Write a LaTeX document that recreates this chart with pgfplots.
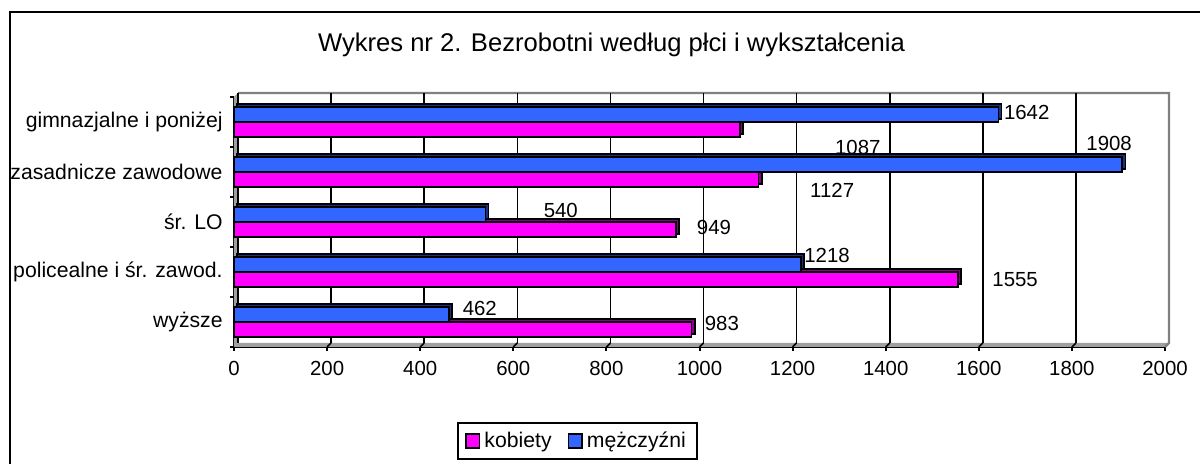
\documentclass[border=0pt]{standalone}
\usepackage{fontspec}
\setmainfont{Liberation Sans}
\usepackage{pgfplots}
\pgfplotsset{compat=1.18}
\definecolor{mypink}{HTML}{FF00FF}
\definecolor{mypinkd}{HTML}{8A008A}
\definecolor{myblue}{HTML}{3366FF}
\definecolor{myblued}{HTML}{1A3380}
\definecolor{wallgray}{HTML}{A0A0A0}
\definecolor{bordergray}{HTML}{808080}
\newcommand{\lf}{\fontsize{10.2}{12}\selectfont}
\newcommand{\cf}{\fontsize{10.6}{13}\selectfont}
\pgfplotsset{mylegend/.style={legend image code/.code={\draw[##1,draw=black,line width=0.8pt] (0pt,-3.4pt) rectangle (6.8pt,3.4pt);}}}
\begin{document}
\begin{tikzpicture}
\useasboundingbox (0,0) rectangle (600pt,232pt);
\draw[line width=1pt] (4.75pt,-2pt) -- (4.75pt,225.9pt) -- (602pt,225.9pt);
\node at (305.75pt,209.5pt) {\fontsize{12.8}{15}\selectfont Wykres nr 2. Bezrobotni według płci i wykształcenia};
\begin{axis}[
  at={(117pt,58.5pt)}, anchor=south west,
  width=465.5pt, height=125pt, scale only axis,
  xmin=0, xmax=2000, ymin=-0.5, ymax=4.5,
  clip=false,
  axis x line*=bottom, axis y line*=left,
  axis line style={line width=1pt, black, -},
  xtick={0,200,...,2000},
  tick align=outside,
  major tick length=2pt,
  xtick style={line width=1pt, black},
  ytick={0,1,2,3,4},
  yticklabels={wyższe, policealne i śr. zawod., śr. LO, zasadnicze zawodowe, gimnazjalne i poniżej},
  ytick style={draw=none},
  yticklabel style={font=\cf, anchor=east, inner sep=0pt, xshift=-3.5pt},
  xticklabel style={font=\lf, yshift=-1.5pt},
  /pgf/number format/assume math mode=true,
  /pgf/number format/1000 sep={},
  legend style={at={(axis description cs:0.369,-0.376)}, anchor=center,
    legend columns=2, draw=black, line width=1pt, font=\cf,
    inner xsep=3.5pt, inner ysep=2.5pt,
    /tikz/every even column/.append style={column sep=6pt}},
]
% back wall, floor and side wall
\fill[wallgray] (axis cs:0,-0.5) -- (axis cs:0,4.5) -- ([shift={(2pt,2pt)}]axis cs:0,4.5) -- ([shift={(2pt,2pt)}]axis cs:0,-0.5) -- cycle;
\fill[wallgray] (axis cs:0,-0.5) -- (axis cs:2000,-0.5) -- ([shift={(2pt,2pt)}]axis cs:2000,-0.5) -- ([shift={(2pt,2pt)}]axis cs:0,-0.5) -- cycle;
\draw[bordergray, line width=1.2pt] ([shift={(2pt,2pt)}]axis cs:0,4.5) -- ([shift={(2pt,2pt)}]axis cs:2000,4.5) -- ([shift={(2pt,2pt)}]axis cs:2000,-0.5) -- (axis cs:2000,-0.5);
\draw[black, line width=0.8pt] ([shift={(2pt,2pt)}]axis cs:0,4.5) -- ([shift={(2pt,2pt)}]axis cs:0,-0.5);
\pgfplotsinvokeforeach{200,400,600,800,1000,1200,1400,1600,1800}{
  \draw[black, line width=0.8pt] ([shift={(2pt,2pt)}]axis cs:#1,-0.5) -- ([shift={(2pt,2pt)}]axis cs:#1,4.5);
  \draw[black, line width=0.8pt] (axis cs:#1,-0.5) -- ([shift={(2pt,2pt)}]axis cs:#1,-0.5);
}
\pgfplotsinvokeforeach{-0.5,0.5,1.5,2.5,3.5,4.5}{
  \draw[black, line width=1pt] (axis cs:0,#1) -- ++(-2pt,0pt);
}
% kobiety
\addplot[xbar, bar width=0.3, bar shift=-0.15, fill=mypinkd, draw=black, line width=0.8pt, xshift=1.6pt, yshift=1.6pt, forget plot]
  coordinates {(983,0) (1555,1) (949,2) (1127,3) (1087,4)};
\addplot[xbar, mylegend, bar width=0.3, bar shift=-0.15, fill=mypink, draw=black, line width=0.8pt]
  coordinates {(983,0) (1555,1) (949,2) (1127,3) (1087,4)};
% mezczyzni
\addplot[xbar, bar width=0.3, bar shift=0.15, fill=myblued, draw=black, line width=0.8pt, xshift=1.6pt, yshift=1.6pt, forget plot]
  coordinates {(462,0) (1218,1) (540,2) (1908,3) (1642,4)};
\addplot[xbar, mylegend, bar width=0.3, bar shift=0.15, fill=myblue, draw=black, line width=0.8pt]
  coordinates {(462,0) (1218,1) (540,2) (1908,3) (1642,4)};
\legend{kobiety, mężczyźni}
% data labels
\node[font=\lf] at (axis cs:1703,4.2) {1642};
\node[font=\lf] at (axis cs:1880,3.58) {1908};
\node[font=\lf] at (axis cs:1340,3.5) {1087};
\node[font=\lf] at (axis cs:1285,2.64) {1127};
\node[font=\lf] at (axis cs:702,2.24) {540};
\node[font=\lf] at (axis cs:1031,1.9) {949};
\node[font=\lf] at (axis cs:1274,1.34) {1218};
\node[font=\lf] at (axis cs:1678,0.84) {1555};
\node[font=\lf] at (axis cs:528,0.28) {462};
\node[font=\lf] at (axis cs:1048,-0.02) {983};
\end{axis}
\end{tikzpicture}
\end{document}
